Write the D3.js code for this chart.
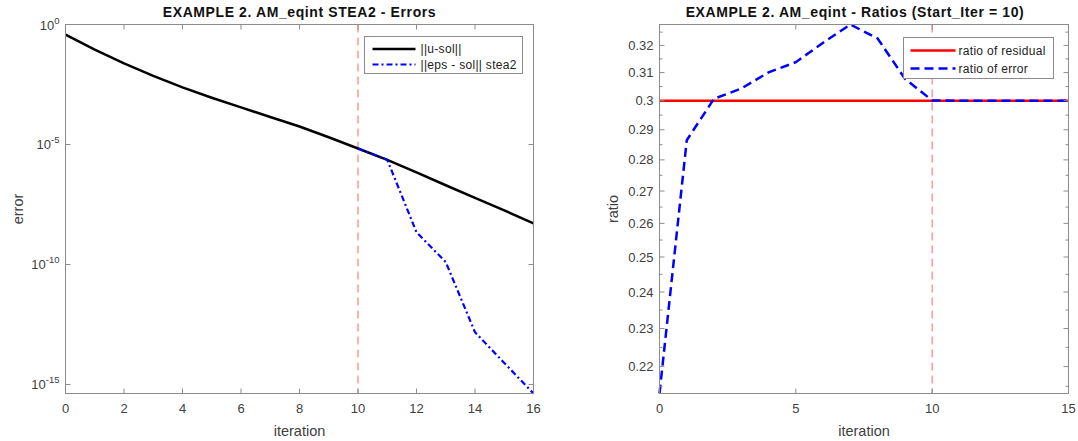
<!DOCTYPE html>
<html>
<head>
<meta charset="utf-8">
<script src="https://cdn.jsdelivr.net/npm/d3@7"></script>
<style>
  html, body { margin: 0; padding: 0; background: #fff; }
  svg { display: block; font-family: "Liberation Sans", Arial, Helvetica, sans-serif; }
</style>
</head>
<body>
<svg id="fig" width="1078" height="441"></svg>
<script>
// ---- data ----
const iterErr = [0, 1, 2, 3, 4, 5, 6, 7, 8, 9, 10, 11, 12, 13, 14, 15, 16];
const uSol = [3.8e-1, 8.9e-2, 2.4e-2, 7.2e-3, 2.4e-3, 8.9e-4, 3.5e-4, 1.4e-4, 5.6e-5,
              2.0e-5, 6.8e-6, 2.3e-6, 6.9e-7, 2.0e-7, 6.0e-8, 1.8e-8, 5.2e-9];
const iterStea = [10, 11, 12, 13, 14, 15, 16];
const epsStea2 = [6.8e-6, 2.3e-6, 2.2e-9, 1.26e-10, 1.5e-13, 7.9e-15, 4.2e-16];

const iterRatio = [0, 1, 2, 3, 4, 5, 6, 7, 8, 9, 10, 11, 12, 13, 14, 15];
const ratioResidual = [0.3, 0.3, 0.3, 0.3, 0.3, 0.3, 0.3, 0.3, 0.3, 0.3, 0.3, 0.3, 0.3, 0.3, 0.3, 0.3];
const ratioError = [0.2132, 0.2865, 0.3007, 0.3043, 0.3101, 0.3138, 0.3210, 0.3279,
                    0.3226, 0.3078, 0.3001, 0.3000, 0.3000, 0.3000, 0.3000, 0.3000];

const startIter = 10;
const errXTicks = [0, 2, 4, 6, 8, 10, 12, 14, 16];
const errYTicks = [1e0, 1e-5, 1e-10, 1e-15];
const ratioXTicks = [0, 5, 10, 15];
const ratioYTicks = [0.22, 0.23, 0.24, 0.25, 0.26, 0.27, 0.28, 0.29, 0.30, 0.31, 0.32];
const ratioYMinor = [0.215, 0.225, 0.235, 0.245, 0.255, 0.265, 0.275, 0.285, 0.295, 0.305, 0.315, 0.325];

// ---- styling ----
const axisColor = "#8c8c8c";
const textColor = "#404040";
const vlineColor = "#ff7f7f";
const tickLen = 5;
const tickFont = 13;
const titleFont = 14;

const svg = d3.select("#fig");

function frame(g, x, y, w, h) {
  g.append("rect").attr("x", x).attr("y", y).attr("width", w).attr("height", h)
    .attr("fill", "none").attr("stroke", axisColor).attr("stroke-width", 1);
}

// ticks pointing inward on all four sides
function xTicks(g, xs, vals, y0, y1, len) {
  g.selectAll(null).data(vals).join("line")
    .attr("x1", d => xs(d)).attr("x2", d => xs(d))
    .attr("y1", y1).attr("y2", y1 - len).attr("stroke", axisColor);
  g.selectAll(null).data(vals).join("line")
    .attr("x1", d => xs(d)).attr("x2", d => xs(d))
    .attr("y1", y0).attr("y2", y0 + len).attr("stroke", axisColor);
}
function yTicks(g, ys, vals, x0, x1, len) {
  g.selectAll(null).data(vals).join("line")
    .attr("x1", x0).attr("x2", x0 + len)
    .attr("y1", d => ys(d)).attr("y2", d => ys(d)).attr("stroke", axisColor);
  g.selectAll(null).data(vals).join("line")
    .attr("x1", x1).attr("x2", x1 - len)
    .attr("y1", d => ys(d)).attr("y2", d => ys(d)).attr("stroke", axisColor);
}

function title(g, cx, txt) {
  g.append("text").attr("x", cx).attr("y", 17).attr("text-anchor", "middle")
    .attr("font-size", titleFont).attr("font-weight", "bold").attr("letter-spacing", 0.6)
    .attr("fill", "#111").text(txt);
}

// ================= left panel: errors =================
{
  const L = 65.5, R = 533.5, T = 24.5, B = 393.5;
  const g = svg.append("g");
  const x = d3.scaleLinear().domain([0, 16]).range([L, R]);
  const y = d3.scaleLog().domain([d3.min(epsStea2), 1]).range([B, T]);

  // start-iteration marker
  g.append("line").attr("x1", x(startIter)).attr("x2", x(startIter)).attr("y1", T).attr("y2", B)
    .attr("stroke", vlineColor).attr("stroke-width", 1.2).attr("stroke-dasharray", "8,5");

  const line = d3.line().x(d => x(d[0])).y(d => y(d[1]));
  g.append("path").datum(d3.zip(iterErr, uSol)).attr("d", line)
    .attr("fill", "none").attr("stroke", "#000").attr("stroke-width", 2.5);
  g.append("path").datum(d3.zip(iterStea, epsStea2)).attr("d", line)
    .attr("fill", "none").attr("stroke", "#0000ff").attr("stroke-width", 2.2)
    .attr("stroke-dasharray", "6,3,2,3");

  frame(g, L, T, R - L, B - T);
  xTicks(g, x, errXTicks, T, B, tickLen);
  yTicks(g, y, errYTicks, L, R, tickLen);

  g.selectAll(null).data(errXTicks).join("text")
    .attr("x", d => x(d)).attr("y", B + 19).attr("text-anchor", "middle")
    .attr("font-size", tickFont).attr("fill", textColor).text(d => d);

  const yl = g.selectAll(null).data(errYTicks).join("text")
    .attr("x", L - 6).attr("y", d => y(d) + 5).attr("text-anchor", "end")
    .attr("font-size", tickFont).attr("fill", textColor);
  yl.append("tspan").text("10");
  yl.append("tspan").attr("dy", -6).attr("font-size", 9.5).text(d => Math.round(Math.log10(d)));

  g.append("text").attr("x", (L + R) / 2).attr("y", 436).attr("text-anchor", "middle")
    .attr("font-size", 14.5).attr("fill", textColor).text("iteration");
  g.append("text").attr("transform", `translate(23,${(T + B) / 2}) rotate(-90)`)
    .attr("text-anchor", "middle").attr("font-size", 14.5).attr("fill", textColor).text("error");
  title(g, (L + R) / 2, "EXAMPLE 2. AM_eqint STEA2 - Errors");

  // legend
  const lg = g.append("g").attr("transform", "translate(364.5,36.5)");
  lg.append("rect").attr("width", 158).attr("height", 37).attr("fill", "#fff").attr("stroke", axisColor);
  lg.append("line").attr("x1", 8).attr("x2", 51).attr("y1", 12.5).attr("y2", 12.5)
    .attr("stroke", "#000").attr("stroke-width", 2.5);
  lg.append("line").attr("x1", 8).attr("x2", 51).attr("y1", 28).attr("y2", 28)
    .attr("stroke", "#0000ff").attr("stroke-width", 2.2).attr("stroke-dasharray", "6,3,2,3");
  lg.append("text").attr("x", 56).attr("y", 16.5).attr("font-size", 12).attr("letter-spacing", 0.3)
    .attr("fill", "#222").text("||u-sol||");
  lg.append("text").attr("x", 56).attr("y", 32).attr("font-size", 12).attr("letter-spacing", 0.3)
    .attr("fill", "#222").text("||eps - sol|| stea2");
}

// ================= right panel: ratios =================
{
  const L = 659.5, R = 1068.5, T = 24.5, B = 393.5;
  const g = svg.append("g");
  const x = d3.scaleLinear().domain([0, 15]).range([L, R]);
  const y = d3.scaleLog().domain(d3.extent(ratioError)).range([B, T]);

  g.append("line").attr("x1", x(startIter)).attr("x2", x(startIter)).attr("y1", T).attr("y2", B)
    .attr("stroke", vlineColor).attr("stroke-width", 1.2).attr("stroke-dasharray", "8,5");

  const line = d3.line().x(d => x(d[0])).y(d => y(d[1]));
  g.append("path").datum(d3.zip(iterRatio, ratioResidual)).attr("d", line)
    .attr("fill", "none").attr("stroke", "#ff0000").attr("stroke-width", 2.5);
  g.append("path").datum(d3.zip(iterRatio, ratioError)).attr("d", line)
    .attr("fill", "none").attr("stroke", "#0000ff").attr("stroke-width", 2.5)
    .attr("stroke-dasharray", "9,5");

  frame(g, L, T, R - L, B - T);
  xTicks(g, x, ratioXTicks, T, B, tickLen);
  yTicks(g, y, ratioYTicks, L, R, tickLen);
  yTicks(g, y, ratioYMinor.filter(v => y(v) >= T && y(v) <= B), L, R, 3);

  g.selectAll(null).data(ratioXTicks).join("text")
    .attr("x", d => x(d)).attr("y", B + 19).attr("text-anchor", "middle")
    .attr("font-size", tickFont).attr("fill", textColor).text(d => d);
  g.selectAll(null).data(ratioYTicks).join("text")
    .attr("x", L - 6).attr("y", d => y(d) + 4.5).attr("text-anchor", "end")
    .attr("font-size", tickFont).attr("fill", textColor).text(d => d3.format("~g")(d));

  g.append("text").attr("x", (L + R) / 2).attr("y", 436).attr("text-anchor", "middle")
    .attr("font-size", 14.5).attr("fill", textColor).text("iteration");
  g.append("text").attr("transform", `translate(618,${(T + B) / 2}) rotate(-90)`)
    .attr("text-anchor", "middle").attr("font-size", 14.5).attr("fill", textColor).text("ratio");
  title(g, (L + R) / 2 - 9, "EXAMPLE 2. AM_eqint - Ratios (Start_Iter = 10)");

  const lg = g.append("g").attr("transform", "translate(903.5,37.5)");
  lg.append("rect").attr("width", 150).attr("height", 41).attr("fill", "#fff").attr("stroke", axisColor);
  lg.append("line").attr("x1", 7).attr("x2", 52).attr("y1", 13).attr("y2", 13)
    .attr("stroke", "#ff0000").attr("stroke-width", 2.5);
  lg.append("line").attr("x1", 7).attr("x2", 52).attr("y1", 31).attr("y2", 31)
    .attr("stroke", "#0000ff").attr("stroke-width", 2.5).attr("stroke-dasharray", "9,5");
  lg.append("text").attr("x", 55).attr("y", 17.5).attr("font-size", 12).attr("letter-spacing", 0.3)
    .attr("fill", "#222").text("ratio of residual");
  lg.append("text").attr("x", 55).attr("y", 35.5).attr("font-size", 12).attr("letter-spacing", 0.3)
    .attr("fill", "#222").text("ratio of error");
}
</script>
</body>
</html>
